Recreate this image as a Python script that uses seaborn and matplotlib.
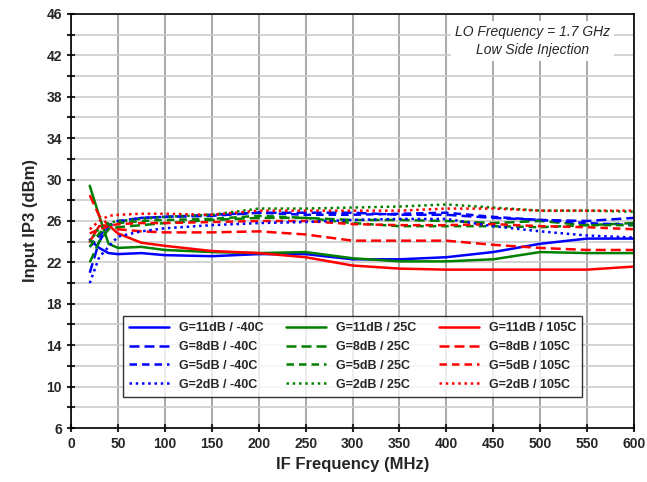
import matplotlib
matplotlib.use("Agg")
import matplotlib.pyplot as plt
import seaborn as sns
import pandas as pd
from matplotlib.ticker import MultipleLocator, FixedLocator

sns.set_theme(style="white")
plt.rcParams['font.family'] = ['Liberation Sans', 'DejaVu Sans']

freq = [20, 30, 40, 50, 75, 100, 150, 200, 250, 300, 350, 400, 450, 500, 550, 600]
g11_m40 = [24.2, 23.4, 22.9, 22.8, 22.9, 22.7, 22.6, 22.8, 22.8, 22.3, 22.3, 22.5, 23.0, 23.8, 24.3, 24.3]
g11_25 = [29.4, 26.5, 23.8, 23.4, 23.5, 23.2, 23.0, 22.9, 23.0, 22.4, 22.1, 22.1, 22.3, 23.0, 22.9, 22.9]
g11_105 = [24.0, 25.5, 25.6, 24.8, 23.9, 23.6, 23.1, 22.9, 22.5, 21.7, 21.4, 21.3, 21.3, 21.3, 21.3, 21.6]
g8_m40 = [21.0, 24.0, 25.5, 25.9, 26.3, 26.4, 26.5, 26.8, 26.8, 26.8, 26.6, 26.6, 26.3, 26.1, 26.0, 26.3]
g8_25 = [22.0, 24.0, 25.2, 25.4, 25.6, 25.8, 26.1, 26.3, 26.3, 26.1, 26.1, 26.0, 25.8, 26.0, 25.6, 25.8]
g8_105 = [28.5, 26.5, 25.6, 25.2, 25.0, 24.9, 24.9, 25.0, 24.7, 24.1, 24.1, 24.1, 23.7, 23.4, 23.2, 23.2]
g5_m40 = [23.5, 24.5, 25.6, 26.0, 26.3, 26.4, 26.6, 26.8, 26.6, 26.6, 26.7, 26.8, 26.4, 26.1, 25.8, 25.6]
g5_25 = [23.5, 24.8, 25.6, 25.8, 26.0, 26.1, 26.2, 26.5, 26.3, 25.8, 25.5, 25.5, 25.5, 25.4, 25.6, 25.6]
g5_105 = [24.8, 25.2, 25.5, 25.7, 25.8, 25.8, 25.9, 26.0, 26.0, 25.7, 25.6, 25.6, 25.7, 25.5, 25.4, 25.2]
g2_m40 = [20.0, 22.5, 23.5, 24.5, 25.0, 25.3, 25.6, 25.8, 25.9, 26.1, 26.2, 26.2, 25.5, 25.0, 24.6, 24.4]
g2_25 = [24.0, 25.3, 25.8, 26.0, 26.2, 26.4, 26.6, 27.2, 27.2, 27.3, 27.4, 27.6, 27.3, 27.0, 27.0, 26.9]
g2_105 = [25.2, 26.0, 26.5, 26.6, 26.7, 26.7, 26.6, 27.0, 27.0, 27.0, 27.0, 27.2, 27.2, 27.0, 27.0, 27.0]

series = [
    ("G=11dB / -40C", g11_m40, "#0000ff", "-"),
    ("G=11dB / 25C", g11_25, "#008000", "-"),
    ("G=11dB / 105C", g11_105, "#ff0000", "-"),
    ("G=8dB / -40C", g8_m40, "#0000ff", (0, (4, 2))),
    ("G=8dB / 25C", g8_25, "#008000", (0, (4, 2))),
    ("G=8dB / 105C", g8_105, "#ff0000", (0, (4, 2))),
    ("G=5dB / -40C", g5_m40, "#0000ff", (0, (3, 2))),
    ("G=5dB / 25C", g5_25, "#008000", (0, (3, 2))),
    ("G=5dB / 105C", g5_105, "#ff0000", (0, (3, 2))),
    ("G=2dB / -40C", g2_m40, "#0000ff", (0, (1, 1.5))),
    ("G=2dB / 25C", g2_25, "#008000", (0, (1, 1.5))),
    ("G=2dB / 105C", g2_105, "#ff0000", (0, (1, 1.5))),
]

fig = plt.figure(figsize=(6.47, 4.82), dpi=100)
ax = fig.add_axes([71/647, 1-428/482, (634-71)/647, (428-14)/482])

for name, vals, c, ls in series:
    df = pd.DataFrame({"x": freq, "y": vals})
    sns.lineplot(data=df, x="x", y="y", ax=ax, color=c, linestyle=ls, lw=1.8, label=name)

ax.set_xlim(0, 600)
ax.set_ylim(6, 46)
ax.xaxis.set_major_locator(MultipleLocator(50))
ax.yaxis.set_major_locator(FixedLocator(list(range(6, 47, 4))))
ax.yaxis.set_minor_locator(FixedLocator(list(range(8, 46, 4))))
ax.grid(True, which="major", axis="x", color="#999999", lw=1.2)
ax.grid(True, which="both", axis="y", color="#cccccc", lw=1.2)
ax.set_axisbelow(True)
for s in ax.spines.values():
    s.set_color("black")
    s.set_linewidth(1.2)
ax.tick_params(axis="both", which="major", direction="inout", length=6, width=1.5,
               labelsize=10, bottom=True, left=True)
ax.tick_params(axis="y", which="minor", direction="inout", length=6, width=1.5, left=True)
for lab in ax.get_xticklabels() + ax.get_yticklabels():
    lab.set_fontweight("bold")
ax.set_xlabel("IF Frequency (MHz)", fontsize=12, fontweight="bold", labelpad=4)
ax.set_ylabel("Input IP3 (dBm)", fontsize=12, fontweight="bold", labelpad=6)

h, l = ax.get_legend_handles_labels()
order = [0, 3, 6, 9, 1, 4, 7, 10, 2, 5, 8, 11]
leg = ax.legend([h[i] for i in order], [l[i] for i in order], ncol=3, loc="lower center",
                bbox_to_anchor=(0.5, 0.06), fontsize=9,
                frameon=True, fancybox=False, edgecolor="black", handlelength=3.2,
                columnspacing=1.8, labelspacing=0.55, borderpad=0.5)
leg.get_frame().set_linewidth(1.0)
for t in leg.get_texts():
    t.set_fontweight("bold")

ax.text(0.82, 0.935, "LO Frequency = 1.7 GHz\nLow Side Injection", transform=ax.transAxes,
        ha="center", va="center", fontsize=10, style="italic", linespacing=1.3,
        bbox=dict(facecolor="white", edgecolor="none", pad=3))

fig.savefig("out.png", dpi=100)
